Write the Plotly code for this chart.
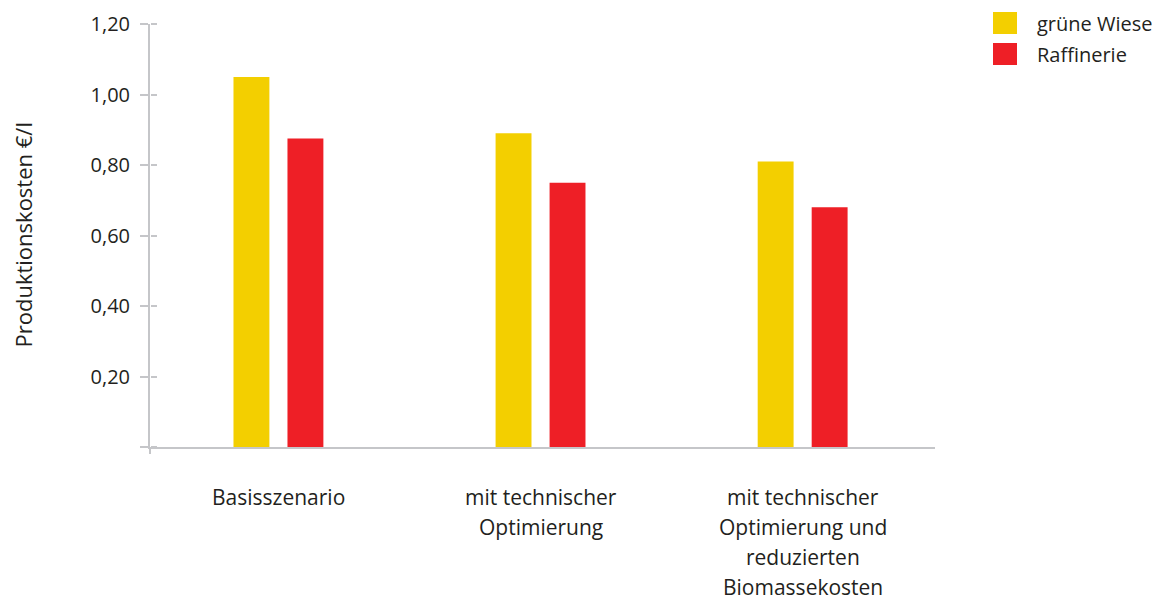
import plotly.graph_objects as go

categories = ["Basisszenario",
              "mit technischer<br>Optimierung",
              "mit technischer<br>Optimierung und<br>reduzierten<br>Biomassekosten"]
series_names = ["grüne Wiese", "Raffinerie"]
gruene_wiese = [1.05, 0.89, 0.81]
raffinerie = [0.875, 0.75, 0.68]
series_values = [gruene_wiese, raffinerie]
colors = ["#f3cf00", "#ee1f26"]
y_tickvals = [0, 0.2, 0.4, 0.6, 0.8, 1.0, 1.2]
y_ticktext = ["", "0,20", "0,40", "0,60", "0,80", "1,00", "1,20"]
y_title = "Produktionskosten €/l"

OFF = 8  # page body margin
W, H = 1160 - OFF, 601 - OFF
L, T = 150 - OFF, 24 - OFF
PR, PB = 935 - OFF, 447 - OFF
R, B = W - PR, H - PB
PW, PH = PR - L, PB - T
FONT = "Open Sans"
TXT = "#231f20"
AX = "#c5c6c9"


def px_x(px):
    return (px - OFF - L) / PW


def px_y(py):
    return (PB - (py - OFF)) / PH


xs = list(range(len(categories)))
fig = go.Figure()
for name, vals, col in zip(series_names, series_values, colors):
    fig.add_trace(go.Bar(x=xs, y=vals, name=name, marker=dict(color=col, line=dict(width=0)),
                         showlegend=False, xaxis="x", yaxis="y"))

fig.add_trace(go.Scatter(x=[xs[0]], y=[0], mode="markers", marker=dict(opacity=0),
                         showlegend=False, hoverinfo="skip", xaxis="x", yaxis="y2"))

annotations = []
for i, cat in enumerate(categories):
    for j, line in enumerate(cat.split("<br>")):
        annotations.append(dict(x=i, xref="x", y=0, yref="paper", text=line, showarrow=False,
                                yanchor="middle", xanchor="center", yshift=-(50 + 30 * j),
                                font=dict(family=FONT, size=21, color=TXT)))

annotations.append(dict(x=0, xref="paper", y=0.5, yref="paper", text=y_title, showarrow=False,
                        textangle=-90, xanchor="center", yanchor="middle", xshift=-128,
                        font=dict(family=FONT, size=22, color=TXT)))

shapes = []
for k, (name, col) in enumerate(zip(series_names, colors)):
    top = 12 + 31 * k
    shapes.append(dict(type="rect", xref="paper", yref="paper",
                       x0=px_x(993), x1=px_x(1017), y0=px_y(top), y1=px_y(top + 22),
                       fillcolor=col, line=dict(width=0)))
    annotations.append(dict(x=px_x(1035), xref="paper", y=px_y(top + 11), yref="paper",
                            text=name, showarrow=False, xanchor="left", yanchor="middle",
                            font=dict(family=FONT, size=20, color=TXT)))

fig.update_layout(
    width=W, height=H, autosize=False,
    margin=dict(l=L, r=R, t=T, b=B, autoexpand=False),
    paper_bgcolor="white", plot_bgcolor="white",
    barmode="group", bargap=0.588, bargroupgap=0.335,
    font=dict(family=FONT, color=TXT),
    xaxis=dict(range=[-0.49, 2.505], showgrid=False, zeroline=False, automargin=False,
               showline=True, linecolor=AX, linewidth=2,
               tickvals=[-0.49], ticktext=[""], ticks="outside", ticklen=5,
               tickwidth=2, tickcolor=AX),
    yaxis=dict(range=[0, 1.2], showgrid=False, zeroline=False, automargin=False,
               showline=True, linecolor=AX, linewidth=2,
               tickvals=y_tickvals, ticktext=y_ticktext, ticks="outside", ticklen=8,
               tickwidth=2, tickcolor=AX, ticklabelstandoff=6,
               tickfont=dict(family=FONT, size=20, color=TXT)),
    yaxis2=dict(range=[0, 1.2], overlaying="y", side="right", anchor="free", position=0,
                showgrid=False, zeroline=False, showline=False, automargin=False,
                tickvals=y_tickvals, ticks="outside", ticklen=6,
                tickwidth=2, tickcolor=AX, showticklabels=False),
    annotations=annotations, shapes=shapes,
)

fig.write_html("out.html")
